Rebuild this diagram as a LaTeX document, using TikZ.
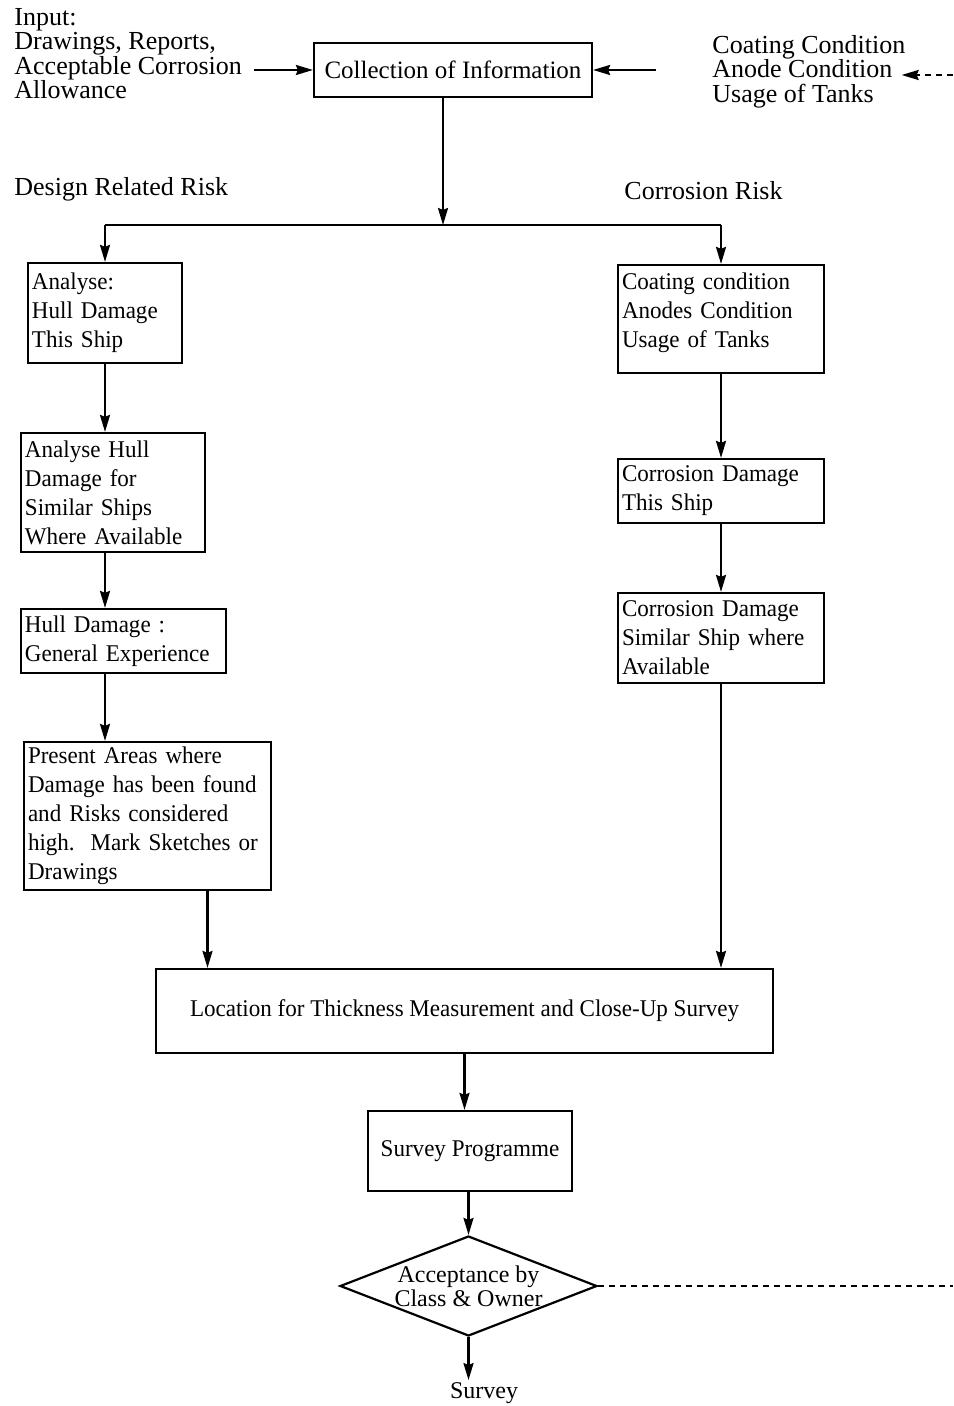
\documentclass[tikz,border=0pt]{standalone}
\usepackage{fontspec}
\setmainfont{Liberation Serif}
\newfontfamily\boxfont{Liberation Serif}[FakeStretch=0.96]
\usetikzlibrary{shapes.geometric,arrows.meta}

\tikzset{
  box/.style={draw, line width=1.1pt, align=left, inner xsep=2pt, inner ysep=1pt, font=\boxfont\fontsize{12}{14.5}\selectfont},
  flow/.style={line width=1.1pt, -{Stealth[length=8.5pt,width=5pt,inset=1pt]}},
  plain/.style={align=left, inner sep=0pt, font=\fontsize{13}{12.2}\selectfont},
  decision/.style={draw, diamond, line width=1.1pt, minimum width=128.5pt, minimum height=50pt, inner sep=0pt},
}

\begin{document}
\begin{tikzpicture}[x=0.5pt,y=-0.5pt]
\useasboundingbox (0,0) rectangle (953,1406);
% top row
\node[box, align=center, inner sep=1pt, minimum width=139pt, minimum height=27pt, font=\fontsize{12.5}{12}\selectfont] (info) at (453,70) {Collection of Information};
\node[plain, anchor=north west] (input) at (14,8) {Input:\\Drawings, Reports,\\Acceptable Corrosion\\Allowance};
\node[plain, anchor=north west] (cond) at (712,35) {Coating Condition\\Anode Condition\\Usage of Tanks};
\coordinate (edgeR) at (953,75);
\draw[flow] ([xshift=6pt]input.east |- info) -- (info);
\draw[flow] ([xshift=-28pt]cond.west |- info) -- (info);
\draw[flow, dash pattern=on 3pt off 2.5pt] (edgeR) -- ([xshift=-2pt]cond.east |- edgeR);

% split into the two branches
\coordinate (split) at (443,225);
\node[plain, anchor=west] (design) at (14,189) {Design Related Risk};
\node[plain, anchor=west] (corr) at (624,191) {Corrosion Risk};

% design related risk
\node[box, text width=73pt, minimum height=50pt] (a1) at (105,313) {Analyse:\\Hull Damage\\This Ship};
\node[box, text width=88pt, minimum height=59.5pt] (a2) at (113,492.5) {Analyse Hull\\Damage for\\Similar Ships\\Where Available};
\node[box, text width=98.5pt, minimum height=32pt] (a3) at (123.5,641) {Hull Damage :\\General Experience};
\node[box, text width=119.5pt, minimum height=74pt] (a4) at (147.5,816) {Present Areas where\\Damage has been found\\and Risks considered\\high.\ \ Mark Sketches or\\Drawings};

% corrosion risk
\node[box, text width=99pt, minimum height=54pt] (r1) at (721,319) {Coating condition\\Anodes Condition\\Usage of Tanks\\[-6pt]\mbox{}};
\node[box, text width=99pt, minimum height=32pt] (r2) at (721,491) {Corrosion Damage\\This Ship};
\node[box, text width=99pt, minimum height=45pt] (r3) at (721,638) {Corrosion Damage\\Similar Ship where\\Available};

% bottom
\node[box, align=center, minimum width=308.5pt, minimum height=42pt] (loc) at (464.5,1011) {Location for Thickness Measurement and Close-Up Survey};
\node[box, align=center, minimum width=102pt, minimum height=40pt] (prog) at (470,1151) {Survey Programme};
\node[decision, label={[align=center, font=\fontsize{12}{12}\selectfont]center:{Acceptance by\\Class \& Owner}}] (dec) at (468.5,1286) {};
\node[font=\fontsize{12}{14.5}\selectfont, inner sep=1pt] (survey) at (484,1393) {Survey};
\coordinate (edgeD) at (953,1286);

\draw[flow] (info.south -| split) -- (split);
\draw[line width=1.1pt] (split -| a1) -- (split -| r1);
\draw[flow] (split -| a1) -- (a1);
\draw[flow] (split -| r1) -- (r1);

\draw[flow] (a1) -- (a2.north -| a1);
\draw[flow] (a2.south -| a1) -- (a3.north -| a1);
\draw[flow] (a3.south -| a1) -- (a4.north -| a1);
\draw[flow] ([xshift=30pt]a4.south) -- ([xshift=30pt]a4.south |- loc.north);

\draw[flow] (r1) -- (r2);
\draw[flow] (r2) -- (r3);
\draw[flow] (r3) -- (r3 |- loc.north);

\draw[flow] (loc.south) -- (loc.south |- prog.north);
\draw[flow] (prog.south -| dec) -- (dec);
\draw[flow] (dec) -- (dec.south |- survey.north);
\draw[line width=1.1pt, dash pattern=on 3pt off 2.5pt] (dec.east) -- (edgeD);
\end{tikzpicture}
\end{document}
